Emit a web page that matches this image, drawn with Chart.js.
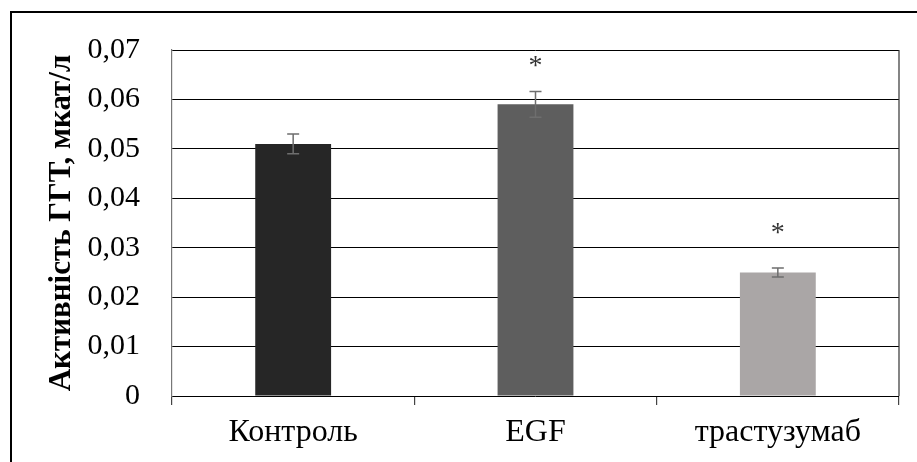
<!DOCTYPE html>
<html>
<head>
<meta charset="utf-8">
<script src="https://cdn.jsdelivr.net/npm/chart.js@4.4.1/dist/chart.umd.min.js"></script>
<style>
  html, body { margin: 0; padding: 0; background: #fff; overflow: hidden; }
  #wrap { position: relative; width: 917px; height: 462px; }
  #frame {
    position: absolute; left: 10px; top: 11px;
    width: 1000px; height: 1000px;
    border: 2px solid #000; pointer-events: none;
  }
</style>
</head>
<body>
<div id="wrap">
  <canvas id="ggtChart" width="917" height="462"></canvas>
  <div id="frame"></div>
</div>
<script>
const categories = ['Контроль', 'EGF', 'трастузумаб'];
const ggtValues = [0.051, 0.059, 0.025];
const ggtErrors = [0.002, 0.0026, 0.0009];
const starLevels = [null, 0.066, 0.0322];
const yTicks = [0, 0.01, 0.02, 0.03, 0.04, 0.05, 0.06, 0.07];
const barColors = ['#262626', '#5e5e5e', '#aaa6a6'];

const serif = '"Liberation Serif", "Times New Roman", serif';

// error bars, significance stars and the right frame of the plot
const extrasPlugin = {
    id: 'extras',
    afterDatasetsDraw(chart) {
        const ctx = chart.ctx;
        const y = chart.scales.y;
        const meta = chart.getDatasetMeta(0);
        ctx.save();
        ctx.strokeStyle = '#6e6e6e';
        ctx.lineWidth = 1.5;
        meta.data.forEach((bar, i) => {
            const top = y.getPixelForValue(ggtValues[i] + ggtErrors[i]);
            const bot = y.getPixelForValue(ggtValues[i] - ggtErrors[i]);
            ctx.beginPath();
            ctx.moveTo(bar.x, top); ctx.lineTo(bar.x, bot);
            ctx.moveTo(bar.x - 6, top); ctx.lineTo(bar.x + 6, top);
            ctx.moveTo(bar.x - 6, bot); ctx.lineTo(bar.x + 6, bot);
            ctx.stroke();
        });
        ctx.fillStyle = '#333';
        ctx.font = '28px ' + serif;
        ctx.textAlign = 'center';
        ctx.textBaseline = 'alphabetic';
        meta.data.forEach((bar, i) => {
            if (starLevels[i] == null) return;
            ctx.fillText('*', bar.x, y.getPixelForValue(starLevels[i]) + 4);
        });
        const a = chart.chartArea;
        ctx.strokeStyle = '#333';
        ctx.lineWidth = 1.2;
        ctx.beginPath();
        ctx.moveTo(a.right, a.top);
        ctx.lineTo(a.right, a.bottom);
        ctx.stroke();
        ctx.restore();
    }
};

new Chart(document.getElementById('ggtChart').getContext('2d'), {
    type: 'bar',
    data: {
        labels: categories,
        datasets: [{
            data: ggtValues,
            backgroundColor: barColors,
            borderWidth: 0,
            barPercentage: 0.313,
            categoryPercentage: 1.0
        }]
    },
    options: {
        responsive: false,
        animation: false,
        layout: { padding: { left: 0, top: 42, right: 18, bottom: 0 } },
        plugins: {
            legend: { display: false },
            tooltip: { enabled: false }
        },
        scales: {
            x: {
                offset: true,
                grid: {
                    offset: true,
                    drawOnChartArea: false,
                    drawTicks: true,
                    tickLength: 9,
                    color: '#444',
                    lineWidth: 1.2
                },
                border: { display: false },
                ticks: {
                    color: '#000',
                    font: { family: serif, size: 32 },
                    padding: 8
                },
                afterFit(scale) { scale.height = 66; }
            },
            y: {
                min: 0,
                max: 0.07,
                afterBuildTicks(scale) {
                    scale.ticks = yTicks.map(v => ({ value: v }));
                },
                grid: {
                    color: '#000',
                    lineWidth: 1,
                    drawTicks: false
                },
                border: { display: true, color: '#777', width: 1.2 },
                ticks: {
                    color: '#000',
                    font: { family: serif, size: 30 },
                    padding: 32,
                    callback: v => String(v).replace('.', ',')
                },
                title: {
                    display: true,
                    text: 'Активність ГГТ, мкат/л',
                    color: '#000',
                    font: { family: serif, size: 31, weight: 'bold' },
                    padding: { top: 43, bottom: 0 }
                },
                afterFit(scale) { scale.width = 172; }
            }
        }
    },
    plugins: [extrasPlugin]
});
</script>
</body>
</html>
